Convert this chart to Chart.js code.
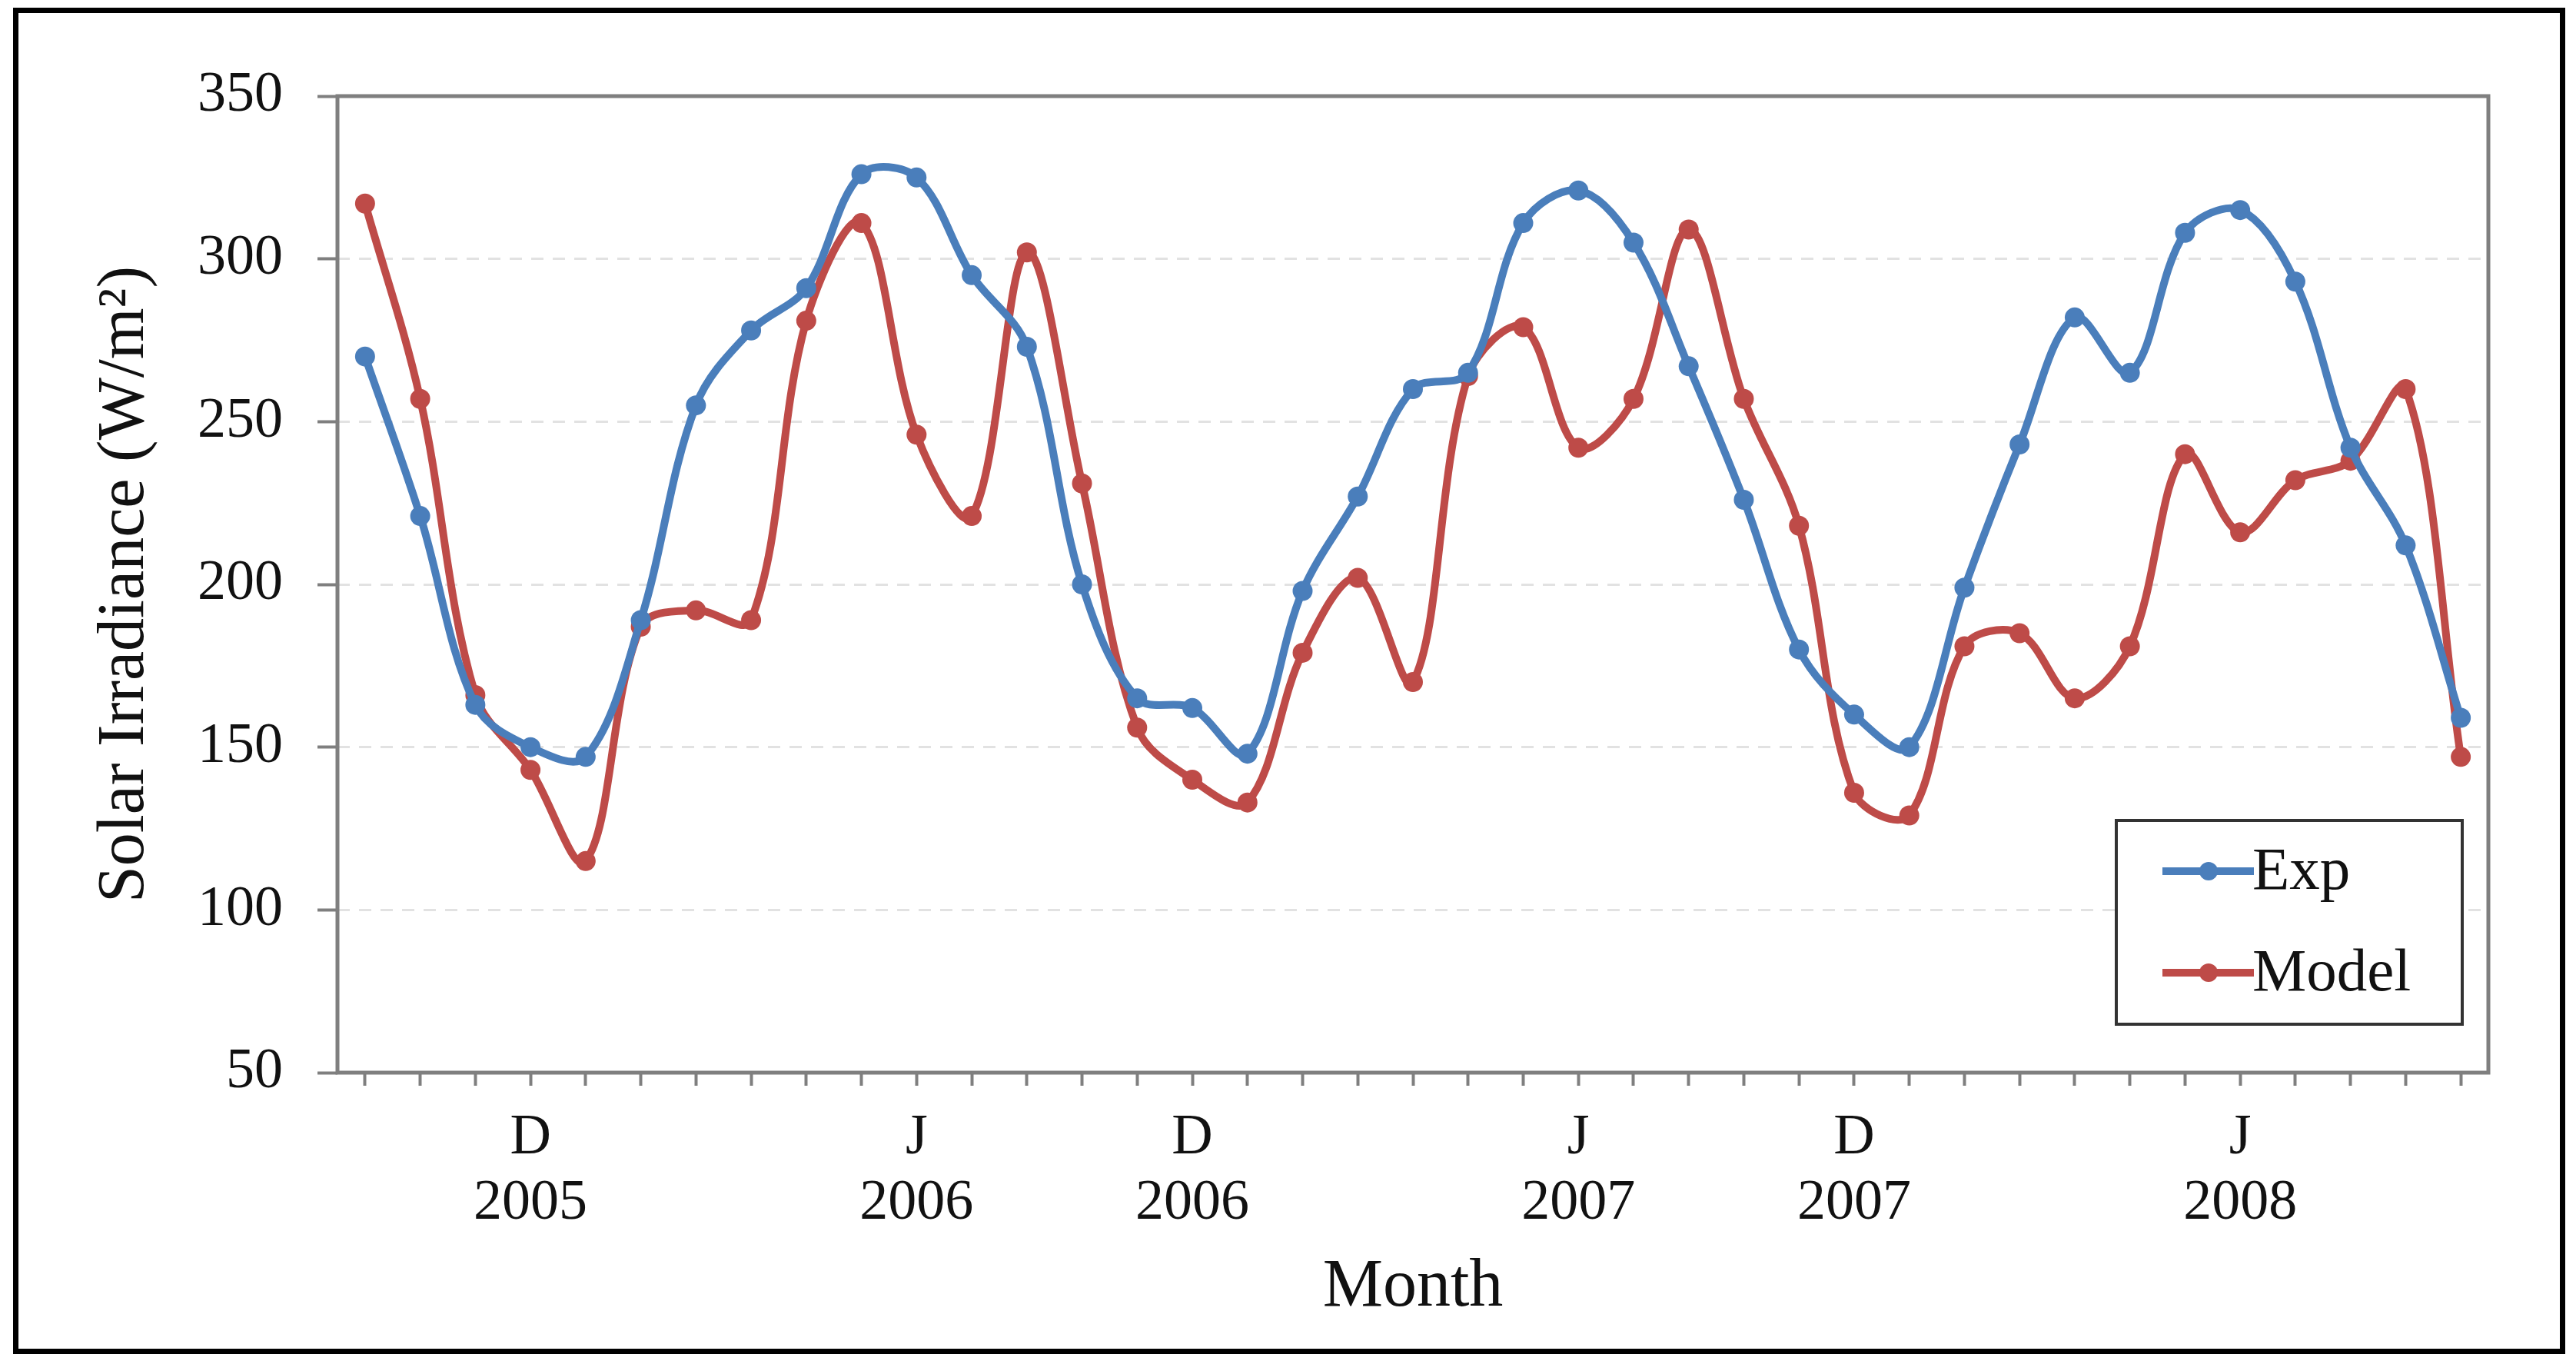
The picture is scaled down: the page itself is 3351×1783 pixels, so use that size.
<!DOCTYPE html>
<html><head><meta charset="utf-8">
<script src="https://cdn.jsdelivr.net/npm/chart.js@4.4.1/dist/chart.umd.min.js"></script>
<style>
html,body{margin:0;padding:0;background:#fff;overflow:hidden;}
#wrap{position:relative;width:3351px;height:1783px;}
#c{position:absolute;left:0;top:0;width:3351px;height:1783px;}
#frame{position:absolute;left:17px;top:10px;width:3320px;height:1751px;border:7px solid #000;box-sizing:border-box;pointer-events:none;}
</style></head><body>
<div id="wrap"><canvas id="c" width="3351" height="1783"></canvas><div id="frame"></div></div>
<script>
// ---- data ----
const categories = [
  '', '', '', ['D','2005'], '', '', '', '', '', '', ['J','2006'], '', '', '', '', ['D','2006'], '', '', '', '',
  '', '', ['J','2007'], '', '', '', '', ['D','2007'], '', '', '', '', '', '', ['J','2008'], '', '', '', ''
];
const expValues = [270,221,163,150,147,189,255,278,291,326,325,295,273,200,165,162,148,198,227,260,
  265,311,321,305,267,226,180,160,150,199,243,282,265,308,315,293,242,212,159];
const modelValues = [317,257,166,143,115,187,192,189,281,311,246,221,302,231,156,140,133,179,202,170,
  264,279,242,257,309,257,218,136,129,181,185,165,181,240,216,232,238,260,147];
const yTicks = [50,100,150,200,250,300,350];
const seriesNames = ['Exp','Model'];
const yTitle = 'Solar Irradiance (W/m\u00B2)';
const xTitle = 'Month';

// ---- styles ----
const BLUE = '#4A7EBB', RED = '#BE4B48';
const SERIF = "'Liberation Serif', 'Times New Roman', serif";
const AXIS = '#7f7f7f';

const framePlugin = {
  id: 'plotFrame',
  beforeDatasetsDraw(chart) {
    const {ctx, chartArea: {left, top, right, bottom}} = chart;
    ctx.save();
    ctx.strokeStyle = AXIS;
    ctx.lineWidth = 5;
    ctx.beginPath();
    ctx.moveTo(left, top); ctx.lineTo(right, top); ctx.lineTo(right, bottom);
    ctx.lineTo(left, bottom); ctx.closePath();
    ctx.stroke();
    ctx.restore();
  },
  afterDraw(chart) {
    const ctx = chart.ctx;
    const box = {x: 2753, y: 1067, w: 450, h: 265};
    ctx.save();
    ctx.fillStyle = '#fff';
    ctx.fillRect(box.x, box.y, box.w, box.h);
    ctx.strokeStyle = '#333';
    ctx.lineWidth = 4;
    ctx.strokeRect(box.x, box.y, box.w, box.h);
    const rows = [1133, 1265];
    chart.data.datasets.forEach((ds, i) => {
      const y = rows[i];
      ctx.strokeStyle = ds.borderColor;
      ctx.lineWidth = 10;
      ctx.beginPath(); ctx.moveTo(2813, y); ctx.lineTo(2932, y); ctx.stroke();
      ctx.fillStyle = ds.borderColor;
      ctx.beginPath(); ctx.arc(2873, y, 12, 0, Math.PI * 2); ctx.fill();
      ctx.fillStyle = '#111';
      ctx.font = '79px ' + SERIF;
      ctx.textAlign = 'left';
      ctx.textBaseline = 'middle';
      ctx.fillText(ds.label, 2930, y + 2);
    });
    ctx.restore();
  }
};

new Chart(document.getElementById('c'), {
  type: 'line',
  data: {
    labels: categories,
    datasets: [
      {label: seriesNames[0], data: expValues, borderColor: BLUE, backgroundColor: BLUE,
       pointBackgroundColor: BLUE, pointBorderColor: BLUE},
      {label: seriesNames[1], data: modelValues, borderColor: RED, backgroundColor: RED,
       pointBackgroundColor: RED, pointBorderColor: RED}
    ]
  },
  options: {
    responsive: false,
    animation: false,
    devicePixelRatio: 1,
    layout: {padding: {left: 112, top: 125, right: 114, bottom: 55}},
    elements: {
      line: {borderWidth: 10, tension: 0.35, fill: false},
      point: {radius: 13, borderWidth: 0, hoverRadius: 13}
    },
    plugins: {legend: {display: false}, tooltip: {enabled: false}},
    scales: {
      x: {
        type: 'category',
        offset: true,
        afterFit(s) { s.height = 333; },
        border: {display: false},
        grid: {offset: false, drawOnChartArea: false, drawTicks: true, tickLength: 17,
               tickColor: AXIS, tickWidth: 4},
        ticks: {autoSkip: false, maxRotation: 0, minRotation: 0, padding: 26, color: '#111',
                font: {family: SERIF, size: 74, lineHeight: 1.15}},
        title: {display: true, text: xTitle, color: '#111', padding: 0,
                font: {family: SERIF, size: 88, lineHeight: 1.2}}
      },
      y: {
        min: 50, max: 350,
        afterFit(s) { s.width = 327; },
        afterBuildTicks(s) { s.ticks = yTicks.map(v => ({value: v})); },
        border: {display: false, dash: [16, 12]},
        grid: {
          color: (c) => (c.tick && (c.tick.value === 50 || c.tick.value === 350)) ? 'rgba(0,0,0,0)' : '#e2e2e2',
          lineWidth: 3, drawTicks: true, tickLength: 26, tickColor: AXIS, tickWidth: 4, tickBorderDash: []
        },
        ticks: {stepSize: 50, padding: 45, color: '#111', font: {family: SERIF, size: 74}},
        title: {display: true, text: yTitle, color: '#111', padding: 0,
                font: {family: SERIF, size: 86, lineHeight: 1.2}}
      }
    }
  },
  plugins: [framePlugin]
});
</script>
</body></html>
